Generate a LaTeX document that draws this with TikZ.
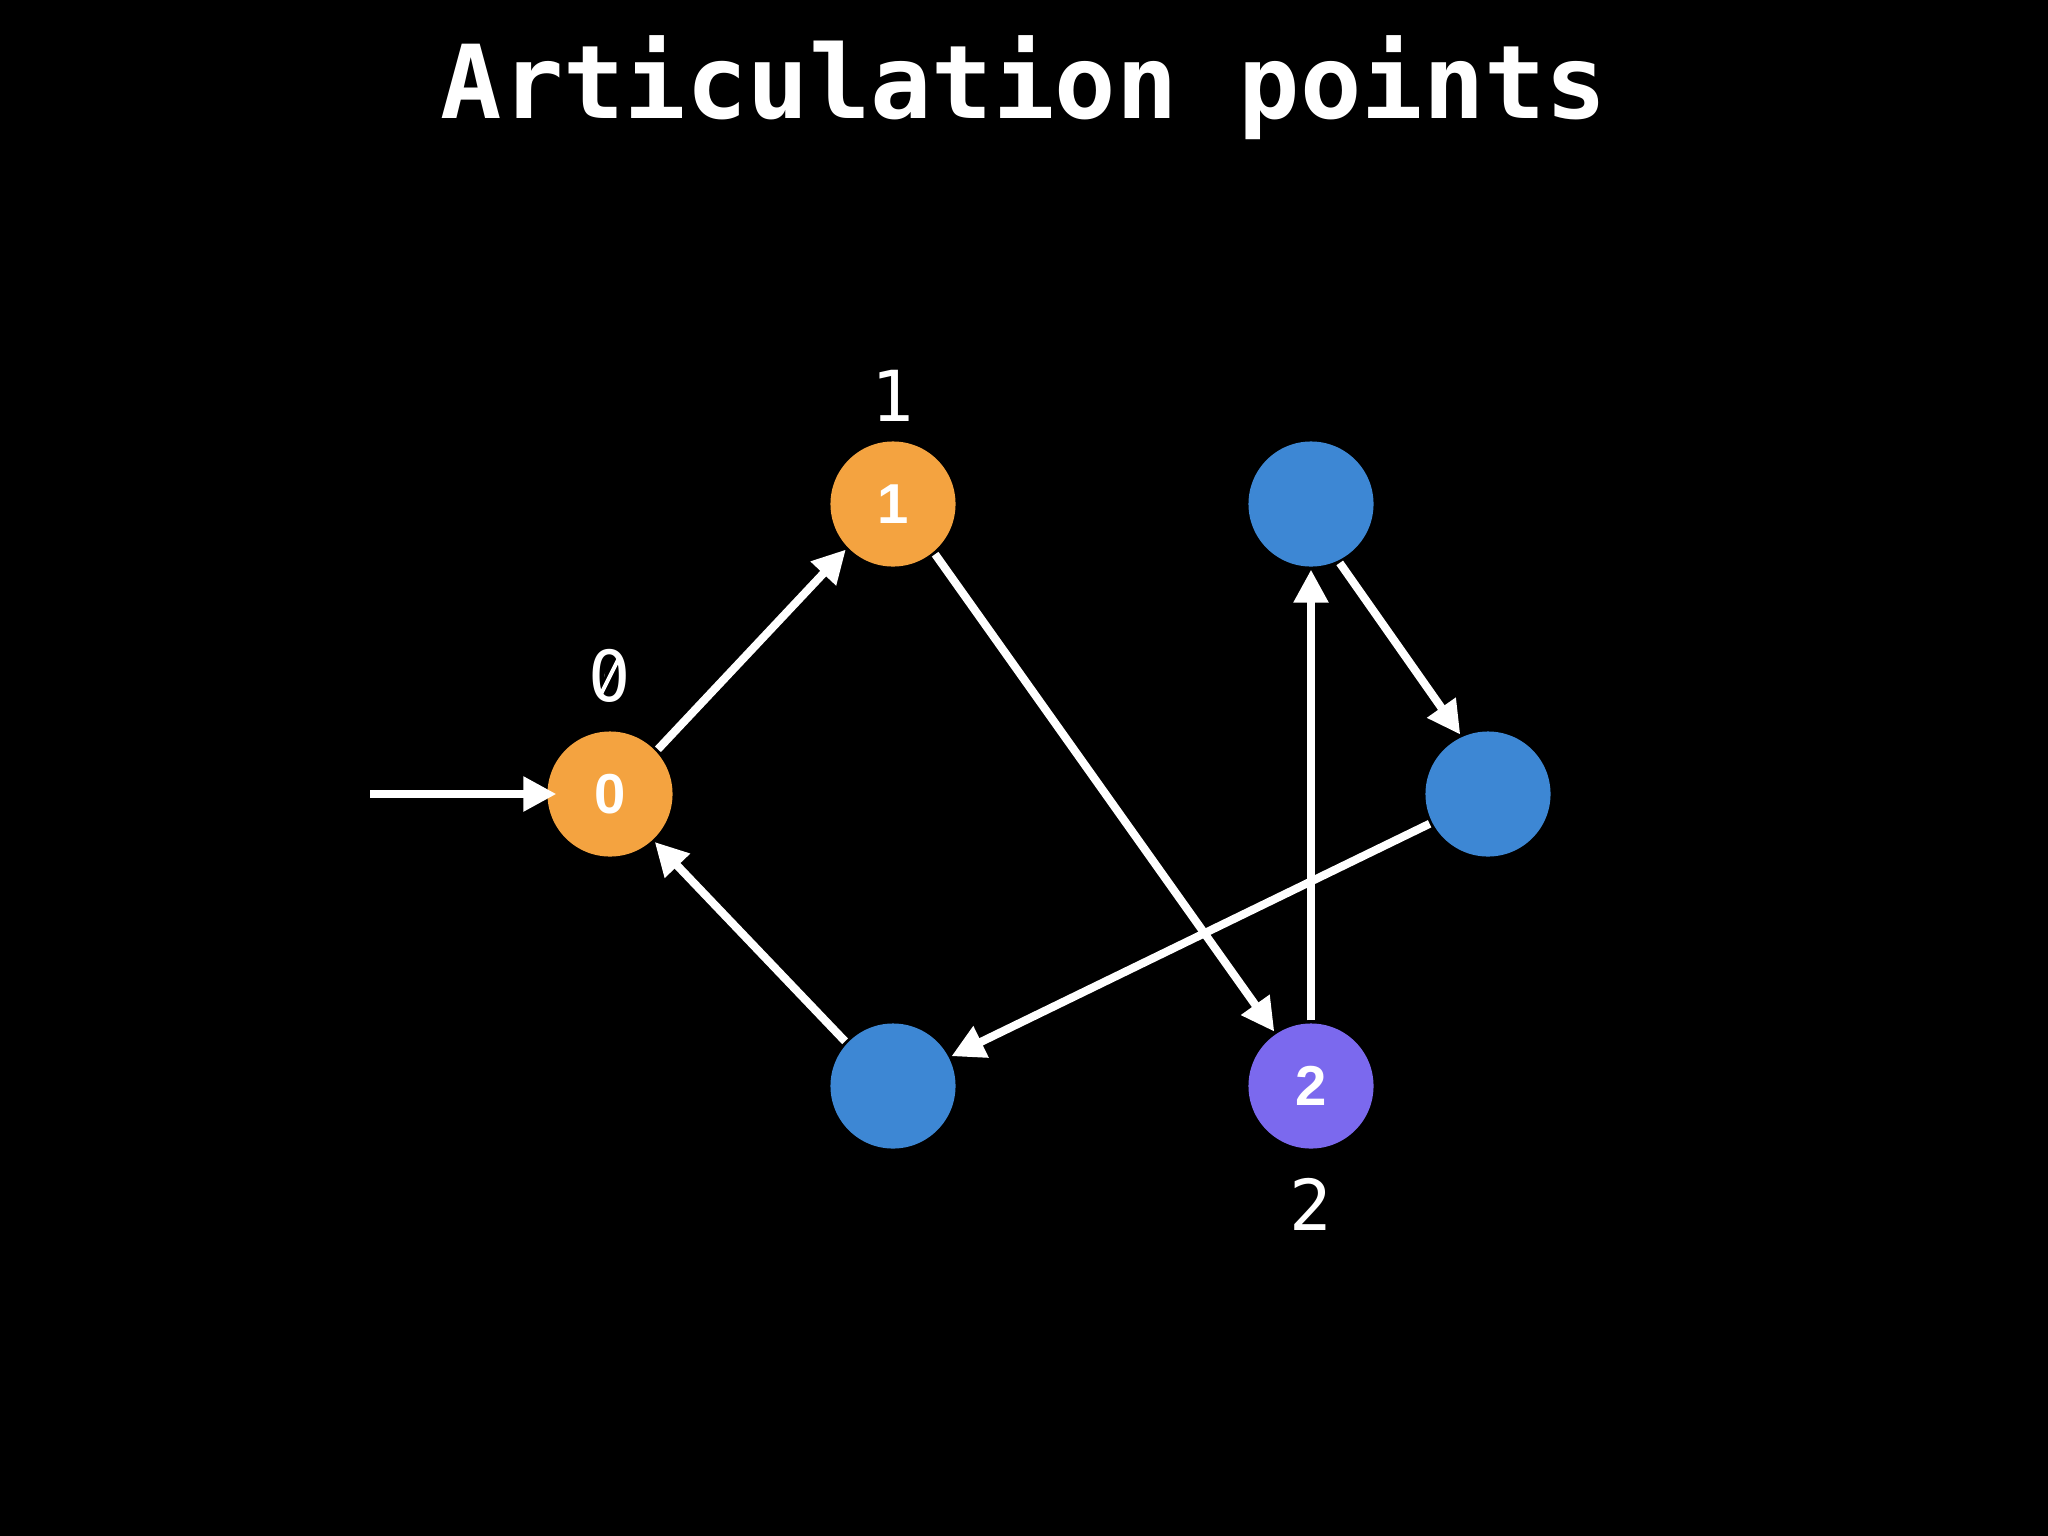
\documentclass[tikz,border=0pt]{standalone}
\usepackage{fontspec}
\newfontfamily\monofont{DejaVu Sans Mono}
\newfontfamily\monobold{DejaVu Sans Mono Bold}
\newfontfamily\sansbold{Liberation Sans Bold}
\usetikzlibrary{arrows.meta}
\definecolor{orng}{HTML}{F4A340}
\definecolor{blu}{HTML}{3D87D4}
\definecolor{purp}{HTML}{7B69EE}
\tikzset{
  vert/.style={circle, minimum size=1.25cm, inner sep=0pt, outer sep=0.03cm, draw=none, text=white, font=\sansbold\fontsize{16}{16}\selectfont},
  lbl/.style={text=white, inner sep=0pt, font=\monofont\fontsize{20}{20}\selectfont},
  edge/.style={draw=white, line width=2.3pt, -{Triangle[length=0.33cm, width=0.33cm]}}
}
\begin{document}
\begin{tikzpicture}[x=0.01cm, y=-0.01cm]
\fill[black] (0,0) rectangle (2048,1536);
\useasboundingbox (0,0) rectangle (2048,1536);
\node[text=white, anchor=base, inner sep=0pt, font=\monobold\fontsize{29}{29}\selectfont] (title) at (1024,118) {Articulation points};
\node[vert, fill=orng] (n0) at (610,794) {0};
\node[vert, fill=orng] (n1) at (893,504) {1};
\node[vert, fill=blu] (tr) at (1311,504) {};
\node[vert, fill=blu] (r) at (1488,794) {};
\node[vert, fill=blu] (bl) at (893,1086) {};
\node[vert, fill=purp] (n2) at (1311,1086) {2};
\node[lbl] (l0) at (610,676) {0};
% slashed zero: hide the dot, add the slash
\fill[black] (l0.center) ellipse [x radius=5.5, y radius=7.5];
\draw[white, line width=1.1pt] ([shift={(-8.5,17)}]l0.center) -- ([shift={(8.5,-17)}]l0.center);
\node[lbl] (l1) at (893,396) {1};
\node[lbl] (l2) at (1311,1204) {2};
\coordinate (start) at (370,794);
\draw[edge] (start) -- ([xshift=0.12cm]n0.west);
\draw[edge] (n0.43) -- (n1.224);
\draw[edge] (n1.-50) -- (n2.124);
\draw[edge] (tr.-64.6) -- (r.115.4);
\draw[edge] (r.207.4) -- (bl.27.7);
\draw[edge] (n2.90) -- (tr.-90);
\draw[edge] (bl.137.4) -- (n0.-47.4);
\end{tikzpicture}
\end{document}
